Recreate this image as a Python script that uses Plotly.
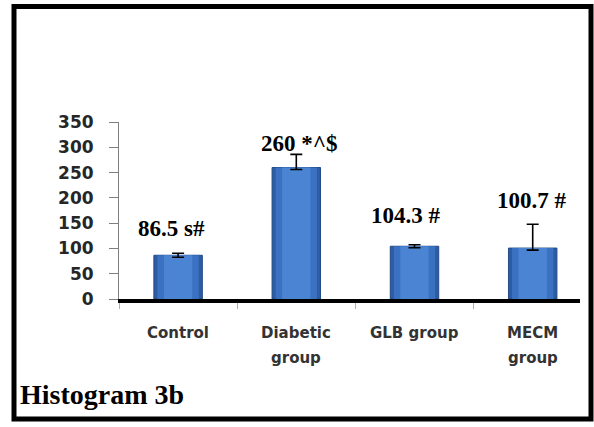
import plotly.graph_objects as go

# Group means with their error-bar extents
categories = ["Control", "Diabetic\ngroup", "GLB group", "MECM\ngroup"]
values = [86.5, 260, 104.3, 100.7]
err_plus = [4, 26, 3, 47]
err_minus = [4, 4, 3, 4]
label_marks = ["s#", "*^$", "#", "#"]
y_ticks = [0, 50, 100, 150, 200, 250, 300, 350]
panel_title = "Histogram 3b"

# Label placement (data units above the bar, pixel nudges sideways)
label_lift = [53, 48, 61, 95]
label_nudge = [-7, 3, -9, -1]

W, H = 594, 427
ML, MR, MT, MB = 119, 14, 122, 128
PW, PH = W - ML - MR, H - MT - MB
X_AXIS_PX = H - MB  # pixel row of the category axis


def px_to_paper_x(px):
    return (px - ML) / PW


def px_to_paper_y(py):
    return (X_AXIS_PX - py) / PH


fig = go.Figure()

# layered bars give the rounded, shaded look of the columns
for width, color, line in [(0.41, "#2c5ca3", "#234b88"),
                           (0.35, "#3a71c0", None),
                           (0.24, "#4a84d2", None)]:
    fig.add_trace(go.Bar(
        x=categories, y=values, width=width,
        marker=dict(color=color,
                    line=dict(color=line or color, width=1 if line else 0)),
        showlegend=False, hoverinfo="skip",
    ))

# error bars on the top layer
fig.data[-1].error_y = dict(type="data", symmetric=False,
                            array=err_plus, arrayminus=err_minus,
                            color="black", thickness=1.6, width=6)

# value labels above each column
for cat, v, mark, lift, dx in zip(categories, values, label_marks,
                                  label_lift, label_nudge):
    fig.add_annotation(
        x=cat, y=v + lift, xref="x", yref="y",
        text=f"{v:g} {mark}", showarrow=False, xshift=dx,
        font=dict(family="Liberation Serif", size=23, color="black",
                  weight="bold"),
    )

# category names under the axis, one annotation per line
for cat in categories:
    for i, line in enumerate(cat.split("\n")):
        fig.add_annotation(
            x=cat, y=0, xref="x", yref="paper", yanchor="middle",
            text=line, showarrow=False, yshift=-34 - 25 * i,
            font=dict(family="DejaVu Sans", size=15, color="#333333",
                      weight="bold"),
        )

# panel caption
fig.add_annotation(
    x=px_to_paper_x(18), y=px_to_paper_y(394),
    xref="paper", yref="paper", xanchor="left", yanchor="middle",
    text=panel_title, showarrow=False,
    font=dict(family="Liberation Serif", size=28, color="black",
              weight="bold"),
)

# frame around the whole panel
fig.add_shape(
    type="rect", xref="paper", yref="paper",
    x0=px_to_paper_x(14), x1=px_to_paper_x(591),
    y0=px_to_paper_y(419), y1=px_to_paper_y(6.5),
    line=dict(color="black", width=5), fillcolor="rgba(0,0,0,0)",
)

fig.update_layout(
    width=W, height=H,
    margin=dict(l=ML, r=MR, t=MT, b=MB, pad=0),
    barmode="overlay",
    plot_bgcolor="white", paper_bgcolor="white",
    xaxis=dict(
        type="category", range=[-0.5, -0.5 + PW / 118.2],
        showline=True, linecolor="black", linewidth=4,
        ticks="outside", tickson="boundaries", ticklen=6,
        tickcolor="#b0b0b0", tickwidth=1,
        showticklabels=False, showgrid=False, zeroline=False,
    ),
    yaxis=dict(
        range=[0, 350], tickvals=y_ticks,
        showline=True, linecolor="#7f7f7f", linewidth=1,
        ticks="outside", ticklen=9, tickcolor="#7f7f7f",
        ticklabelstandoff=12,
        tickfont=dict(family="DejaVu Sans", size=17, color="#262626",
                      weight="bold"),
        showgrid=False, zeroline=False,
    ),
)

fig.write_html("out.html")
